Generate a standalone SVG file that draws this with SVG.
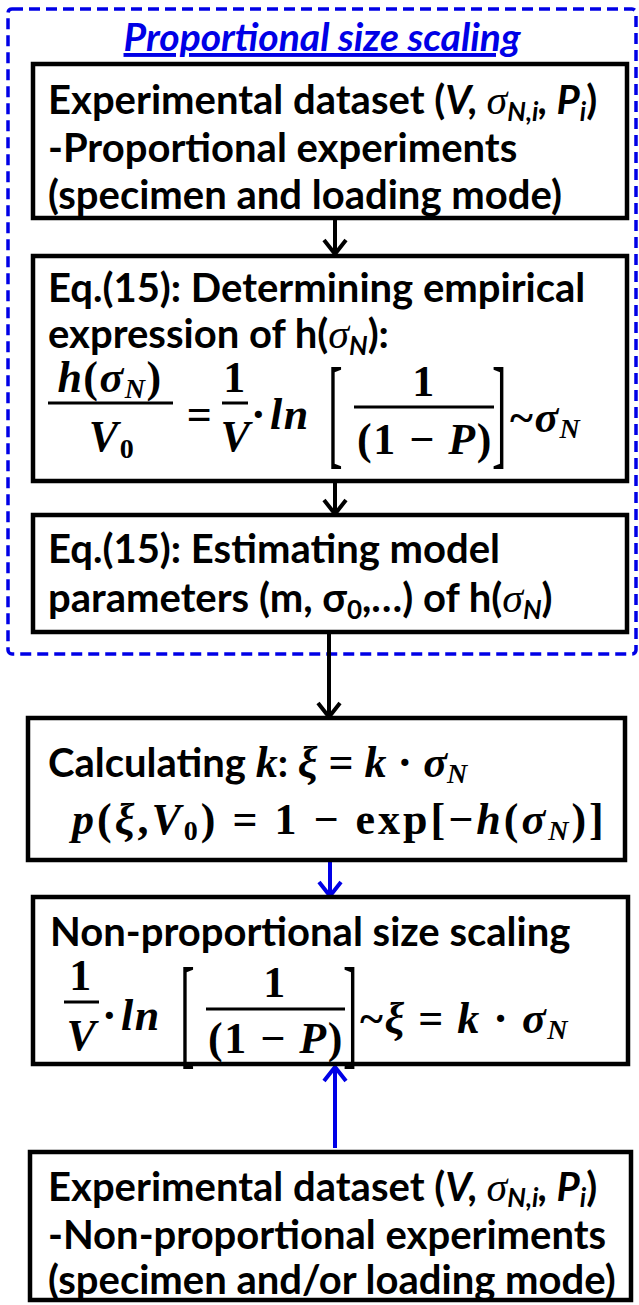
<svg xmlns="http://www.w3.org/2000/svg" width="639" height="1305" viewBox="0 0 639 1305">
<defs>
<style>
.box{fill:#fff;stroke:#000;stroke-width:4.5}
.t{font-family:Lato,"Liberation Sans",sans-serif;font-weight:bold;font-size:40px;fill:#000}
.m{font-family:"Liberation Serif",serif;font-weight:bold;font-style:italic;font-size:44px;fill:#000;letter-spacing:1.5px}
.u{font-style:normal}
.it{font-style:italic}
.gs{font-family:"Liberation Serif",serif;font-style:italic;font-weight:normal}
.br{font-family:"Liberation Serif",serif;font-weight:normal;font-size:44px;fill:#000}
.bar{stroke:#000;stroke-width:3}
.ab{stroke:#000;stroke-width:4;fill:none}
.bb{stroke:#0000e6;stroke-width:4;fill:none}
</style>
<marker id="hk" markerUnits="userSpaceOnUse" markerWidth="30" markerHeight="30" viewBox="-17 -15 20 30" refX="0" refY="0" orient="auto">
<path d="M-14,-11 L0,0 L-14,11" fill="none" stroke="#000" stroke-width="4"/>
</marker>
<marker id="hb" markerUnits="userSpaceOnUse" markerWidth="30" markerHeight="30" viewBox="-17 -15 20 30" refX="0" refY="0" orient="auto">
<path d="M-14,-11 L0,0 L-14,11" fill="none" stroke="#0000e6" stroke-width="4"/>
</marker>
</defs>
<rect width="639" height="1305" fill="#fff"/>

<g id="group-proportional">
<rect x="8" y="9" width="628" height="645" rx="4" fill="none" stroke="#0000e6" stroke-width="3.5" stroke-dasharray="11 6"/>
<text x="322" y="51" text-anchor="middle" font-family="Lato,'Liberation Sans',sans-serif" font-weight="bold" font-style="italic" font-size="39" fill="#0000e6" text-decoration="underline">Proportional size scaling</text>
</g>

<g id="connectors">
<line class="ab" x1="335" y1="218" x2="335" y2="254" marker-end="url(#hk)"/>
<line class="ab" x1="335" y1="481" x2="335" y2="514" marker-end="url(#hk)"/>
<line class="ab" x1="329" y1="632" x2="329" y2="717" marker-end="url(#hk)"/>
<line class="bb" x1="330" y1="861" x2="330" y2="896" marker-end="url(#hb)"/>
<line class="bb" x1="335" y1="1148" x2="335" y2="1067" marker-end="url(#hb)"/>
</g>

<g id="node1">
<rect class="box" x="33" y="64" width="594" height="154"/>
<text class="t" x="48" y="114">Experimental dataset (<tspan class="it">V, </tspan><tspan class="gs" font-size="42">σ</tspan><tspan class="it" font-size="26" dy="7">N,i</tspan><tspan class="it" dy="-7">, P</tspan><tspan class="it" font-size="26" dy="7">i</tspan><tspan dy="-7">)</tspan></text>
<text class="t" x="48" y="162">-Proportional experiments</text>
<text class="t" x="48" y="209">(specimen and loading mode)</text>
</g>

<g id="node2">
<rect class="box" x="33" y="256" width="594" height="225"/>
<text class="t" x="48" y="302">Eq.(15): Determining empirical</text>
<text class="t" x="48" y="348">expression of h(<tspan class="gs" font-size="42">σ</tspan><tspan class="it" font-size="26" dy="7">N</tspan><tspan dy="-7">):</tspan></text>
<text class="m" x="110" y="392" text-anchor="middle">h<tspan class="u">(</tspan>σ<tspan font-size="28" dy="6">N</tspan><tspan class="u" dy="-6">)</tspan></text>
<line class="bar" x1="48" y1="403" x2="173" y2="403"/>
<text class="m" x="112" y="451" text-anchor="middle">V<tspan class="u" font-size="28" dy="7">0</tspan></text>
<text class="m u" x="200" y="429" text-anchor="middle">=</text>
<text class="m u" x="235" y="392" text-anchor="middle">1</text>
<line class="bar" x1="222" y1="403" x2="248" y2="403"/>
<text class="m" x="236" y="451" text-anchor="middle">V</text>
<text class="m u" x="259" y="429" text-anchor="middle">·</text>
<text class="m" x="270" y="429">ln</text>
<text class="br" transform="matrix(1,0,0,2.8,328,453)">[</text>
<text class="m u" x="424" y="396" text-anchor="middle">1</text>
<line class="bar" x1="354" y1="407" x2="494" y2="407"/>
<text class="m u" x="425" y="454" text-anchor="middle">(1 − <tspan class="it">P</tspan>)</text>
<text class="br" transform="matrix(1,0,0,2.8,492,453)">]</text>
<text class="m" x="510" y="432"><tspan class="u">~</tspan>σ<tspan font-size="28" dy="6">N</tspan></text>
</g>

<g id="node3">
<rect class="box" x="33" y="515" width="594" height="117"/>
<text class="t" x="48" y="563">Eq.(15): Estimating model</text>
<text class="t" x="48" y="612">parameters (m, σ<tspan font-size="26" dy="7">0</tspan><tspan dy="-7">,…) of h(</tspan><tspan class="gs" font-size="42">σ</tspan><tspan class="it" font-size="26" dy="7">N</tspan><tspan dy="-7">)</tspan></text>
</g>

<g id="node4">
<rect class="box" x="28" y="718" width="597" height="142"/>
<text class="t" x="48" y="777">Calculating <tspan class="m" style="letter-spacing:0">k</tspan>: <tspan class="m" style="letter-spacing:0">ξ <tspan class="u">=</tspan> k <tspan class="u">·</tspan> σ<tspan font-size="28" dy="6">N</tspan></tspan></text>
<text class="m" x="72" y="834" style="letter-spacing:3px">p<tspan class="u">(</tspan>ξ<tspan class="u">,</tspan>V<tspan class="u" font-size="28" dy="6">0</tspan><tspan class="u" dy="-6">) = 1 − exp[−</tspan>h<tspan class="u">(</tspan>σ<tspan font-size="28" dy="6">N</tspan><tspan class="u" dy="-6">)]</tspan></text>
</g>

<g id="node5">
<rect class="box" x="33" y="897" width="595" height="167"/>
<text class="t" x="50" y="946">Non-proportional size scaling</text>
<text class="m u" x="81" y="990" text-anchor="middle">1</text>
<line class="bar" x1="64" y1="1002" x2="99" y2="1002"/>
<text class="m" x="82" y="1050" text-anchor="middle">V</text>
<text class="m u" x="110" y="1030" text-anchor="middle">·</text>
<text class="m" x="121" y="1030">ln</text>
<text class="br" transform="matrix(1,0,0,2.8,180,1053)">[</text>
<text class="m u" x="275" y="997" text-anchor="middle">1</text>
<line class="bar" x1="206" y1="1009" x2="345" y2="1009"/>
<text class="m u" x="276" y="1053" text-anchor="middle">(1 − <tspan class="it">P</tspan>)</text>
<text class="br" transform="matrix(1,0,0,2.8,343,1053)">]</text>
<text class="m" x="360" y="1033"><tspan class="u">~</tspan>ξ <tspan class="u">=</tspan> k <tspan class="u">·</tspan> σ<tspan font-size="28" dy="6">N</tspan></text>
</g>

<g id="node6">
<rect class="box" x="30" y="1152" width="601" height="148"/>
<text class="t" x="48" y="1201">Experimental dataset (<tspan class="it">V, </tspan><tspan class="gs" font-size="42">σ</tspan><tspan class="it" font-size="26" dy="6">N,i</tspan><tspan class="it" dy="-6">, P</tspan><tspan class="it" font-size="26" dy="6">i</tspan><tspan dy="-6">)</tspan></text>
<text class="t" x="48" y="1249">-Non-proportional experiments</text>
<text class="t" x="48" y="1294">(specimen and/or loading mode)</text>
</g>
</svg>
